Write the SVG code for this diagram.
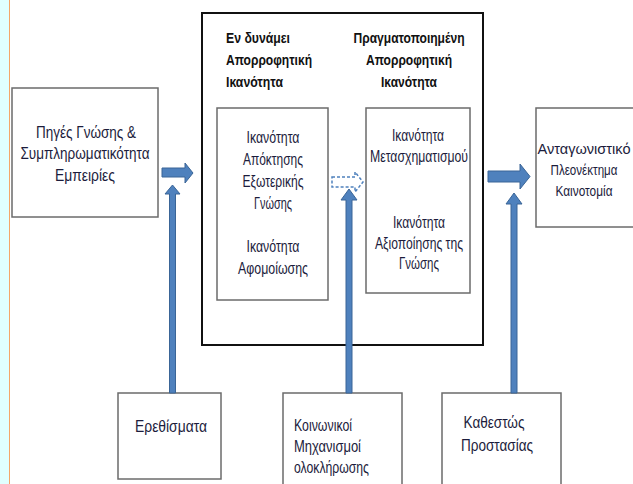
<svg xmlns="http://www.w3.org/2000/svg" width="633" height="484" viewBox="0 0 633 484">
<style>
.t{font-family:"Liberation Sans",Arial,sans-serif;font-size:16px;fill:#1c1c3c;text-anchor:middle}
.r{font-size:14.5px}
.s{text-anchor:start}
.h{font-family:"Liberation Sans",Arial,sans-serif;font-size:14.5px;font-weight:bold;fill:#111}
.c{text-anchor:middle}
.box{fill:#fff;stroke:#6b6b6b;stroke-width:1.5}
.arr{fill:#4f81bd;stroke:#3a6597;stroke-width:1}
.dash{fill:#fff;stroke:#4f81bd;stroke-width:1.5;stroke-dasharray:3 2}
</style>
<rect x="0" y="0" width="633" height="484" fill="#fff"/>
<rect x="0" y="0" width="9" height="484" fill="#e0ffff"/>
<line x1="9.5" y1="0" x2="9.5" y2="484" stroke="#f4a66a" stroke-width="1"/>

<g id="sources">
<rect class="box" x="12" y="88" width="146" height="129"/>
<text class="t" x="86" y="138" textLength="100" lengthAdjust="spacingAndGlyphs">Πηγές Γνώσης &amp;</text>
<text class="t" x="85" y="159" textLength="129" lengthAdjust="spacingAndGlyphs">Συμπληρωματικότητα</text>
<text class="t" x="85" y="181" textLength="60" lengthAdjust="spacingAndGlyphs">Εμπειρίες</text>
</g>

<g id="absorptive">
<rect x="202" y="13" width="281" height="332" fill="#fff" stroke="#111" stroke-width="2"/>
<text class="h" x="226" y="43" textLength="64" lengthAdjust="spacingAndGlyphs">Εν δυνάμει</text>
<text class="h" x="226" y="65" textLength="86" lengthAdjust="spacingAndGlyphs">Απορροφητική</text>
<text class="h" x="226" y="87" textLength="57" lengthAdjust="spacingAndGlyphs">Ικανότητα</text>
<text class="h c" x="409" y="43" textLength="111" lengthAdjust="spacingAndGlyphs">Πραγματοποιημένη</text>
<text class="h c" x="409" y="65" textLength="86" lengthAdjust="spacingAndGlyphs">Απορροφητική</text>
<text class="h c" x="409" y="87" textLength="56" lengthAdjust="spacingAndGlyphs">Ικανότητα</text>
</g>

<g id="potential">
<rect class="box" x="217" y="108" width="111" height="192"/>
<text class="t" x="273" y="143" textLength="53" lengthAdjust="spacingAndGlyphs">Ικανότητα</text>
<text class="t" x="273" y="165" textLength="60" lengthAdjust="spacingAndGlyphs">Απόκτησης</text>
<text class="t" x="273" y="187" textLength="61" lengthAdjust="spacingAndGlyphs">Εξωτερικής</text>
<text class="t" x="273" y="209" textLength="38" lengthAdjust="spacingAndGlyphs">Γνώσης</text>
<text class="t" x="273" y="252" textLength="53" lengthAdjust="spacingAndGlyphs">Ικανότητα</text>
<text class="t" x="273" y="274" textLength="70" lengthAdjust="spacingAndGlyphs">Αφομοίωσης</text>
</g>

<g id="realized">
<rect class="box" x="366" y="108" width="104" height="185"/>
<text class="t" x="418" y="141" textLength="52" lengthAdjust="spacingAndGlyphs">Ικανότητα</text>
<text class="t" x="419" y="162" textLength="98" lengthAdjust="spacingAndGlyphs">Μετασχηματισμού</text>
<text class="t" x="419" y="228" textLength="52" lengthAdjust="spacingAndGlyphs">Ικανότητα</text>
<text class="t" x="419" y="249" textLength="88" lengthAdjust="spacingAndGlyphs">Αξιοποίησης της</text>
<text class="t" x="419" y="269" textLength="40" lengthAdjust="spacingAndGlyphs">Γνώσης</text>
</g>

<g id="advantage">
<rect class="box" x="536" y="108" width="120" height="119"/>
<text class="t r" x="584" y="154" textLength="93" lengthAdjust="spacingAndGlyphs">Ανταγωνιστικό</text>
<text class="t r" x="584" y="175" textLength="67" lengthAdjust="spacingAndGlyphs">Πλεονέκτημα</text>
<text class="t r" x="584" y="196" textLength="57" lengthAdjust="spacingAndGlyphs">Καινοτομία</text>
</g>

<g id="stimuli">
<rect class="box" x="118" y="393" width="103" height="86"/>
<text class="t" x="171" y="432" textLength="72" lengthAdjust="spacingAndGlyphs">Ερεθίσματα</text>
</g>

<g id="social">
<rect class="box" x="283" y="393" width="119" height="100"/>
<text class="t s" x="294" y="431" textLength="58" lengthAdjust="spacingAndGlyphs">Κοινωνικοί</text>
<text class="t s" x="294" y="452" textLength="67" lengthAdjust="spacingAndGlyphs">Μηχανισμοί</text>
<text class="t s" x="294" y="473" textLength="75" lengthAdjust="spacingAndGlyphs">ολοκλήρωσης</text>
</g>

<g id="protection">
<rect class="box" x="442" y="393" width="119" height="100"/>
<text class="t" x="494" y="428" textLength="61" lengthAdjust="spacingAndGlyphs">Καθεστώς</text>
<text class="t" x="497" y="451" textLength="72" lengthAdjust="spacingAndGlyphs">Προστασίας</text>
</g>

<g id="connectors">
<polygon class="arr" points="162,168 185,168 185,163 193,173 185,183 185,177 162,177"/>
<polygon class="dash" points="332,177 355,177 355,172 363,182 355,192 355,187 332,187"/>
<polygon class="arr" points="488,171 520,171 520,164 530,176.5 520,189 520,182 488,182"/>
<polygon class="arr" points="169.5,393 169.5,194 165,194 172.5,185 180,194 175.5,194 175.5,393"/>
<polygon class="arr" points="346,393 346,200 341,200 349,189 357,200 352,200 352,393"/>
<polygon class="arr" points="511,393 511,204 506,204 514,193 522,204 517,204 517,393"/>
</g>
</svg>
